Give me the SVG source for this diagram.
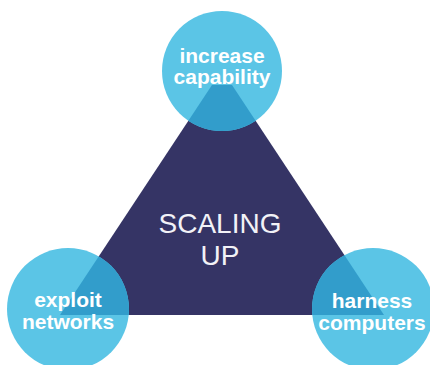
<svg xmlns="http://www.w3.org/2000/svg" width="430" height="365" viewBox="0 0 430 365">
<style>
.circ{fill:#5bc5e6}
.lbl{font-family:"Liberation Sans",Arial,sans-serif;font-weight:bold;font-size:21px;fill:#ffffff;text-anchor:middle}
.ctr{font-family:"Liberation Sans",Arial,sans-serif;font-size:28px;fill:#f2f2f7;text-anchor:middle}
</style>
<defs>
<clipPath id="circles">
<circle cx="222" cy="71" r="60"/>
<circle cx="68" cy="309" r="61"/>
<circle cx="373" cy="309" r="61"/>
</clipPath>
</defs>
<rect width="430" height="365" fill="#ffffff"/>
<g id="triangle">
<polygon points="212,85 232,85 384,315 60,315" fill="#353465"/>
<text class="ctr" x="220" y="233">SCALING</text>
<text class="ctr" x="220" y="265">UP</text>
</g>
<g id="increase-capability">
<circle class="circ" cx="222" cy="71" r="60"/>
</g>
<g id="exploit-networks">
<circle class="circ" cx="68" cy="309" r="61"/>
</g>
<g id="harness-computers">
<circle class="circ" cx="373" cy="309" r="61"/>
</g>
<g id="overlaps">
<polygon points="212,85 232,85 384,315 60,315" fill="#329dcb" clip-path="url(#circles)"/>
</g>
<g id="labels">
<text class="lbl" x="222" y="63">increase</text>
<text class="lbl" x="222" y="84">capability</text>
<text class="lbl" x="68" y="307">exploit</text>
<text class="lbl" x="68" y="329">networks</text>
<text class="lbl" x="372" y="308">harness</text>
<text class="lbl" x="372" y="330">computers</text>
</g>
<g id="connectors"></g>
</svg>
